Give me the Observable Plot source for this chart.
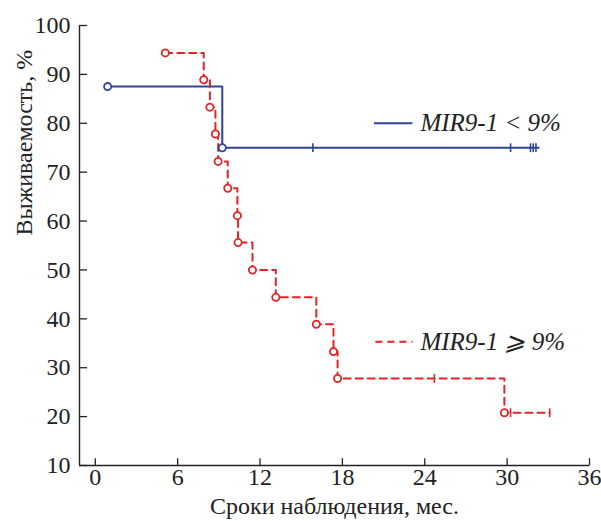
<!DOCTYPE html>
<html><head><meta charset="utf-8">
<script src="https://cdn.jsdelivr.net/npm/d3@7"></script>
<script src="https://cdn.jsdelivr.net/npm/@observablehq/plot@0.6"></script>
<style>body{margin:0;background:#fff}</style>
</head><body><div id="chart"></div>
<script>
// ---- data ----
const xTicks = [0, 6, 12, 18, 24, 30, 36];
const yTicks = [10, 20, 30, 40, 50, 60, 70, 80, 90, 100];
const xLabel = "Сроки наблюдения, мес.";
const yLabel = "Выживаемость, %";
const lowLabel = "MIR9-1 < 9%";
const highLabel = "MIR9-1 \u2A7E 9%";

// MIR9-1 < 9% (blue, solid)
const lowTimes = [0.9, 9.25];
const lowSurv = [87.5, 75.0];
const lowCensor = [15.85, 30.25, 31.7, 31.9, 32.1];
const lowEnd = 32.3;

// MIR9-1 >= 9% (red, dashed)
const highTimes = [5.1, 7.9, 8.35, 8.75, 8.95, 9.65, 10.35, 10.4, 11.45, 13.15, 16.1, 17.35, 17.65, 29.8];
const highSurv = [94.4, 88.9, 83.3, 77.8, 72.2, 66.7, 61.1, 55.6, 50.0, 44.4, 38.9, 33.3, 27.8, 20.8];
const highCensor = [24.7, 30.25, 33.1];
const highEnd = 33.1;

// ---- helpers ----
const BLUE = "#2e4399", RED = "#e42328", INK = "#222";
const FONT = "Liberation Serif, Times New Roman, Tinos, DejaVu Serif, Noto Serif, serif";
function stepPts(times, surv, end) {
  const p = times.map((t, i) => ({x: t, y: surv[i]}));
  p.push({x: end, y: surv[surv.length - 1]});
  return p;
}
function survAt(times, surv, t) {
  let s = surv[0];
  times.forEach((tt, i) => { if (tt <= t) s = surv[i]; });
  return s;
}
const lowLine = stepPts(lowTimes, lowSurv, lowEnd);
const highLine = stepPts(highTimes, highSurv, highEnd);
const lowEv = lowTimes.map((t, i) => ({x: t, y: lowSurv[i]}));
const highEv = highTimes.map((t, i) => ({x: t, y: highSurv[i]}));
const lowCen = lowCensor.map(t => ({x: t, y: survAt(lowTimes, lowSurv, t)}));
const highCen = highCensor.map(t => ({x: t, y: survAt(highTimes, highSurv, t)}));

const xMin = -1.15;
const tickLenX = 0.55, tickLenY = 1.5, cenH = 0.9;

// legend placement (data units)
const legLow = [{x1: 20.3, x2: 23.1, y: 80.0, label: lowLabel}];
const legHigh = [{x1: 20.4, x2: 23.1, y: 35.3, label: highLabel}];

const plot = Plot.plot({
  width: 601, height: 521,
  marginLeft: 79, marginRight: 12, marginTop: 25, marginBottom: 56,
  style: {fontFamily: "Liberation Serif", fontSize: "22px", background: "#fff"},
  x: {domain: [xMin, 36]},
  y: {domain: [10, 100]},
  marks: [
    Plot.ruleX([xMin], {y1: 10, y2: 100, stroke: INK, strokeWidth: 1.4}),
    Plot.ruleY([10], {x1: xMin, x2: 36, stroke: INK, strokeWidth: 1.4}),
    Plot.link(xTicks, {x1: d => d, x2: d => d, y1: 10, y2: 10 + tickLenY, stroke: INK, strokeWidth: 1.3}),
    Plot.link(yTicks, {x1: xMin, x2: xMin + tickLenX, y1: d => d, y2: d => d, stroke: INK, strokeWidth: 1.3}),
    Plot.axisX(xTicks, {tickSize: 0, tickPadding: 2, label: null, fontSize: 24, fill: INK}),
    Plot.axisY(yTicks, {tickSize: 0, tickPadding: 9, label: null, fontSize: 24, fill: INK}),
    Plot.text([xLabel], {frameAnchor: "bottom", dy: 41, fontSize: 24, fill: INK, lineAnchor: "middle"}),
    Plot.text([yLabel], {frameAnchor: "left", dx: -55, dy: -10, rotate: -90, fontSize: 24, fill: INK, lineAnchor: "middle"}),
    // curves
    Plot.line(lowLine, {x: "x", y: "y", curve: "step-after", stroke: BLUE, strokeWidth: 2}),
    Plot.line(highLine, {x: "x", y: "y", curve: "step-after", stroke: RED, strokeWidth: 2, strokeDasharray: "7,5"}),
    // censor marks
    Plot.link(lowCen, {x1: "x", x2: "x", y1: d => d.y - cenH, y2: d => d.y + cenH, stroke: BLUE, strokeWidth: 1.6}),
    Plot.link(highCen, {x1: "x", x2: "x", y1: d => d.y - cenH, y2: d => d.y + cenH, stroke: RED, strokeWidth: 1.6}),
    // events
    Plot.dot(lowEv, {x: "x", y: "y", r: 3.6, stroke: BLUE, strokeWidth: 1.8, fill: "#fff"}),
    Plot.dot(highEv, {x: "x", y: "y", r: 3.6, stroke: RED, strokeWidth: 1.8, fill: "#fff"}),
    // legend
    Plot.link(legLow, {x1: "x1", x2: "x2", y1: "y", y2: "y", stroke: BLUE, strokeWidth: 2}),
    Plot.link(legHigh, {x1: "x1", x2: "x2", y1: "y", y2: "y", stroke: RED, strokeWidth: 2, strokeDasharray: "7,5"}),
    Plot.text(legLow, {x: "x2", y: "y", text: "label", dx: 8, textAnchor: "start", fontStyle: "italic", fontSize: 25, fill: "#222"}),
    Plot.text(legHigh, {x: "x2", y: "y", text: "label", dx: 8, textAnchor: "start", fontStyle: "italic", fontSize: 25, fill: "#222"})
  ]
});
// make the serif face explicit everywhere (attribute and style)
plot.setAttribute("font-family", FONT);
plot.style.fontFamily = FONT;
plot.querySelectorAll("g, text").forEach(el => {
  el.setAttribute("font-family", FONT);
  if (el.tagName.toLowerCase() === "text") el.style.fontFamily = FONT;
});
document.getElementById("chart").appendChild(plot);
</script>
</body></html>
